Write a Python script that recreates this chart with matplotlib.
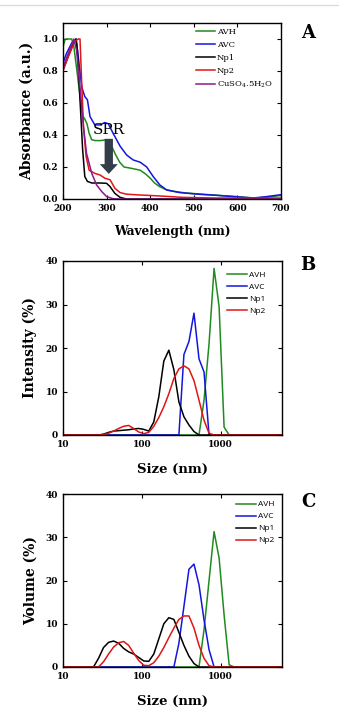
import numpy as np
import matplotlib
matplotlib.use("Agg")
import matplotlib.pyplot as plt
from matplotlib.lines import Line2D
from matplotlib.ticker import NullLocator

plt.rcParams['font.family'] = ['DejaVu Serif']
plt.rcParams['mathtext.fontset'] = 'dejavuserif'

# UV-Vis spectra (wavelength in nm, absorbance normalised)
avh_wl = [200, 205, 210, 220, 225, 232, 240, 245, 250, 255, 260, 266, 275, 285, 300, 310, 320, 330, 340,
          350, 360, 377, 390, 400, 410, 420, 435, 450, 480, 520, 560, 600, 640, 670, 700]
avh_abs = [0.95, 1.0, 1.0, 1.0, 0.95, 0.8, 0.62, 0.52, 0.5, 0.47, 0.41, 0.37, 0.365, 0.365, 0.37, 0.34, 0.28, 0.23, 0.2,
           0.195, 0.19, 0.18, 0.155, 0.13, 0.1, 0.08, 0.06, 0.05, 0.038, 0.03, 0.022, 0.015, 0.006, 0.012, 0.022]

avc_wl = [200, 208, 220, 230, 235, 243, 250, 256, 262, 273, 285, 296, 304, 315, 331, 346, 361, 377, 392,
          407, 422, 438, 468, 514, 552, 590, 636, 667, 700]
avc_abs = [0.85, 0.91, 0.975, 1.0, 0.89, 0.7, 0.64, 0.62, 0.515, 0.463, 0.463, 0.478, 0.47, 0.41, 0.33, 0.275, 0.244, 0.23, 0.2,
           0.14, 0.088, 0.056, 0.04, 0.029, 0.023, 0.015, 0.006, 0.015, 0.027]

np1_wl = [200, 212, 224, 230, 233, 239, 245, 250, 256, 266, 285, 300, 308, 319, 331, 346, 700]
np1_abs = [0.81, 0.89, 0.975, 1.0, 0.93, 0.62, 0.31, 0.14, 0.11, 0.1, 0.1, 0.098, 0.077, 0.035, 0.01, 0.0, 0.0]

np2_wl = [200, 212, 227, 235, 239, 243, 247, 253, 260, 273, 285, 296, 308, 319, 331, 346, 377, 422, 476, 552, 700]
np2_abs = [0.8, 0.89, 0.985, 1.0, 1.0, 0.72, 0.45, 0.265, 0.18, 0.16, 0.15, 0.13, 0.12, 0.067, 0.04, 0.03, 0.025,
           0.019, 0.01, 0.006, 0.006]

cuso4_wl = [200, 212, 225, 231, 239, 247, 254, 266, 277, 289, 300, 315, 330, 700]
cuso4_abs = [0.82, 0.91, 1.0, 0.93, 0.7, 0.45, 0.285, 0.16, 0.088, 0.046, 0.015, 0.002, 0.0, 0.0]

# DLS size classes (nm)
size_bins = [24.36, 28.21, 32.67, 37.84, 43.82, 50.75, 58.77, 68.06, 78.82, 91.28, 105.7, 122.4, 141.8, 164.2,
             190.1, 220.2, 255.0, 295.3, 342.0, 396.1, 458.7, 531.2, 615.1, 712.4, 825.0, 955.4, 1106, 1281, 1484]

# intensity distribution (%)
int_avh = [0] * 22 + [8, 21, 38.3, 29.5, 1.8, 0, 0]
int_avc = [0] * 18 + [18.5, 21.5, 28, 17.5, 14.5] + [0] * 6
int_np1 = [0, 0, 0.2, 0.6, 0.9, 1.0, 1.1, 1.2, 1.4, 1.5, 1.3, 0.9, 3.0, 8.8, 17, 19.5, 15, 7.6, 4.2, 2.3, 0.8] + [0] * 8
int_np2 = [0, 0, 0.1, 0.4, 0.9, 1.5, 2.0, 2.2, 1.5, 0.7, 0.3, 0.6, 2.0, 4.0, 6.5, 9.5, 13, 15.2, 15.9, 15.2, 12.5,
           8, 3.4, 0.4] + [0] * 5

# volume distribution (%)
vol_avh = [0] * 22 + [8.6, 20, 31.3, 25.2, 12, 0.5, 0]
vol_avc = [0] * 17 + [5.5, 14, 22.6, 23.8, 19, 10.9, 4] + [0] * 5
vol_np1 = [0, 2, 4.5, 5.7, 6.0, 5.5, 4.3, 3.5, 3.0, 2.2, 1.4, 1.3, 3, 6.5, 10, 11.4, 11, 8, 5, 2.5, 0.8] + [0] * 8
vol_np2 = [0, 0, 1.2, 3, 4.6, 5.6, 5.9, 5, 3.2, 1.5, 0.4, 0.3, 1, 2.5, 4.5, 6.8, 9, 11, 11.8, 11.8, 9, 5, 2, 0.3] + [0] * 5

labels = ['AVH', 'AVC', 'Np1', 'Np2']
colors = ['#1f8a1f', '#1515e0', '#000000', '#e01515']
cu_color = '#8a1a8a'

size_min, size_max = 10, 6000

fig = plt.figure(figsize=(3.39, 7.19), dpi=100)
W, H = 339, 719


def add_ax(left, top, right, bottom):
    return fig.add_axes([left / W, 1 - bottom / H, (right - left) / W, (bottom - top) / H])


def style_ax(ax):
    for s in ax.spines.values():
        s.set_linewidth(1.0)
    ax.tick_params(direction='in', length=3, width=0.8, top=True, right=True, labelsize=6.5, pad=3.5)
    for lab in ax.get_xticklabels() + ax.get_yticklabels():
        lab.set_fontweight('bold')


# separator line at top
fig.add_artist(Line2D([0, 1], [1 - 5 / H, 1 - 5 / H], color='#dcdcdc', lw=1.0))

# ---- A: absorbance ----
ax1 = add_ax(63, 23, 281, 199)
lw = 1.1
ax1.plot(avh_wl, avh_abs, color=colors[0], lw=lw, label='AVH')
ax1.plot(avc_wl, avc_abs, color=colors[1], lw=lw, label='AVC')
ax1.plot(np1_wl, np1_abs, color=colors[2], lw=lw, label='Np1')
ax1.plot(np2_wl, np2_abs, color=colors[3], lw=lw, label='Np2')
ax1.plot(cuso4_wl, cuso4_abs, color=cu_color, lw=lw, label=r'CuSO$_4$.5H$_2$O')
ax1.set_xlim(200, 700)
ax1.set_ylim(0, 1.1)
ax1.set_xticks([200, 300, 400, 500, 600, 700])
ax1.set_yticks([0.0, 0.2, 0.4, 0.6, 0.8, 1.0])
ax1.set_yticklabels(['0.0', '0.2', '0.4', '0.6', '0.8', '1.0'])
ax1.set_xlabel('Wavelength (nm)', fontsize=8.7, fontweight='bold', labelpad=9)
ax1.set_ylabel('Absorbance (a.u.)', fontsize=10, fontweight='bold', labelpad=6)
style_ax(ax1)
ax1.legend(loc='upper left', bbox_to_anchor=(0.58, 1.01), frameon=False, fontsize=6,
           handlelength=2.3, handletextpad=0.2, labelspacing=0.6, borderpad=0.3)
ax1.annotate('', xy=(305, 0.157), xytext=(305, 0.376),
             arrowprops=dict(facecolor='#343e4a', edgecolor='none', width=6, headwidth=13, headlength=7))
ax1.text(305, 0.385, 'SPR', fontsize=11, ha='center', va='bottom')
fig.text(308 / W, 1 - 33 / H, 'A', fontsize=13, fontweight='bold', ha='center', va='center')


# ---- B / C: DLS distributions ----
def dls_panel(top, bottom, series, ylabel, letter, letter_y, legend_anchor):
    ax = add_ax(63, top, 282, bottom)
    xs = [size_min] + size_bins + [size_max]
    for vals, lab, col in zip(series, labels, colors):
        ax.plot(xs, [0] + vals + [0], color=col, lw=1.1, label=lab)
    ax.set_xscale('log')
    ax.set_xlim(size_min, size_max)
    ax.set_ylim(0, 40)
    ax.set_xticks([10, 100, 1000])
    ax.set_xticklabels(['10', '100', '1000'])
    ax.xaxis.set_minor_locator(NullLocator())
    ax.set_yticks([0, 10, 20, 30, 40])
    ax.set_xlabel('Size (nm)', fontsize=9.5, fontweight='bold', labelpad=10)
    ax.set_ylabel(ylabel, fontsize=10, fontweight='bold', labelpad=6)
    style_ax(ax)
    ax.legend(loc='upper left', bbox_to_anchor=legend_anchor, frameon=False,
              prop={'family': 'Open Sans', 'size': 6},
              handlelength=2.4, handletextpad=0.2, labelspacing=0.5, borderpad=0.3)
    fig.text(308 / W, 1 - letter_y / H, letter, fontsize=13, fontweight='bold', ha='center', va='center')
    return ax


dls_panel(261, 435, [int_avh, int_avc, int_np1, int_np2], 'Intensity (%)', 'B', 265, (0.72, 0.98))
dls_panel(494, 667, [vol_avh, vol_avc, vol_np1, vol_np2], 'Volume (%)', 'C', 502, (0.76, 1.0))

fig.savefig('out.png', dpi=100)
